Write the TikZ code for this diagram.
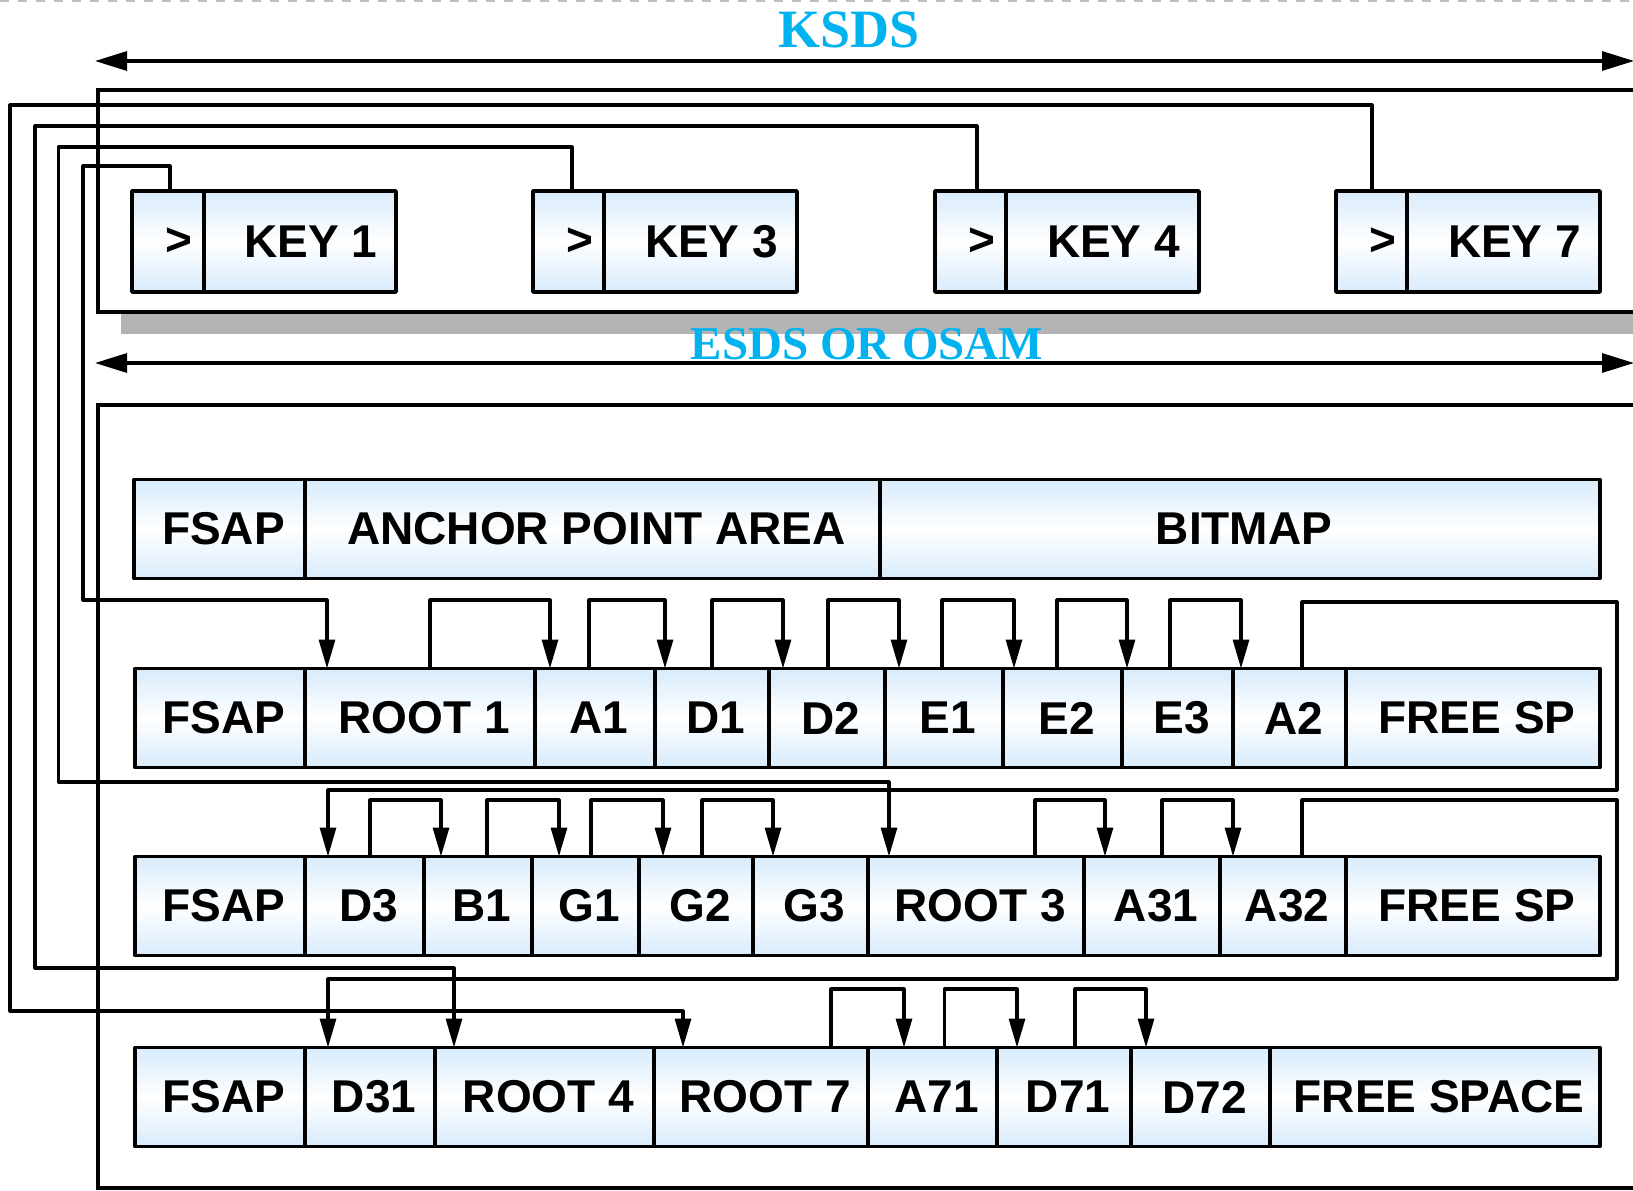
\documentclass[tikz,border=0pt]{standalone}
\usepackage{fontspec}
\setmainfont{Liberation Sans}
\newfontfamily\ttlfont{Liberation Serif}
\usetikzlibrary{arrows.meta}
\definecolor{cellblue}{RGB}{216,235,252}
\definecolor{ttlcyan}{RGB}{0,178,240}
\definecolor{shadowgray}{RGB}{179,179,179}
\newcommand\cel[5]{\pgfmathsetmacro\cellw{#3-#2}\node[cell, minimum width=\cellw pt, anchor=west] (#1) at (#2,#4) {\hspace*{8pt}#5};}
\newcommand\kel[5]{\pgfmathsetmacro\cellw{#3-#2}\node[cell, minimum height=101pt, minimum width=\cellw pt, anchor=west] (#1) at (#2,#4) {\hspace*{22pt}#5};}
\newcommand\hop[5]{\draw[arr] (#3,0 |- #1.north) -- (#3,#5) -- (#4,#5) -- (#4,0 |- #2.north);}
\begin{document}
\begin{tikzpicture}[x=1pt, y=-1pt,
  cell/.style={draw, line width=3.5pt, rectangle, inner sep=0pt, outer sep=0pt,
    minimum height=99pt, top color=cellblue, bottom color=cellblue, middle color=white,
    font=\fontsize{46}{50}\selectfont\bfseries, line join=round},
  link/.style={line width=3.2pt, line join=round},
  arr/.style={link, -{Triangle[length=29pt, width=16pt]}},
  frame/.style={line width=4pt},
  ttl/.style={font=\ttlfont\bfseries\fontsize{54}{58}\selectfont, text=ttlcyan, inner sep=0pt}
]
\useasboundingbox (0,0) rectangle (1633,1191);
\fill[white] (0,0) rectangle (1633,1191);
\draw[black!25, line width=2pt, dash pattern=on 9pt off 9pt] (0,1) -- (1633,1);

% frames
\fill[shadowgray] (121,112) rectangle (1640,334);
\draw[frame, fill=white] (1640,90) -- (98,90) -- (98,312) -- (1640,312);
\draw[frame, fill=white] (1640,405) -- (98,405) -- (98,1188) -- (1640,1188);

% span arrows
\coordinate (ksl) at (95,61);
\coordinate (ksr) at (1634,61);
\coordinate (esl) at (95,363);
\coordinate (esr) at (1634,363);
\draw[link, {Triangle[length=32pt,width=19pt]}-{Triangle[length=32pt,width=19pt]}] (ksl) -- (ksr);
\draw[link, {Triangle[length=32pt,width=19pt]}-{Triangle[length=32pt,width=19pt]}] (esl) -- (esr);
\node[ttl] (ksds) at (849,30) {KSDS};
\node[ttl, font=\ttlfont\bfseries\fontsize{47}{50}\selectfont] (esds) at (867,344) {ESDS OR OSAM};

% key entries
\kel{k1p}{132}{204}{241.5}{>}
\kel{k1}{204}{396}{241.5}{KEY 1}
\kel{k3p}{533}{604}{241.5}{>}
\kel{k3}{604}{797}{241.5}{KEY 3}
\kel{k4p}{935}{1006}{241.5}{>}
\kel{k4}{1006}{1199}{241.5}{KEY 4}
\kel{k7p}{1336}{1407}{241.5}{>}
\kel{k7}{1407}{1600}{241.5}{KEY 7}

% row 1
\cel{fa}{134}{305}{529}{FSAP}
\cel{apa}{305}{880}{529}{ANCHOR POINT AREA}
\cel{bmp}{880}{1600}{529}{BITMAP}
% row 2
\cel{fb}{135}{305}{718}{FSAP}
\cel{root1}{305}{535}{718}{ROOT 1}
\cel{a1}{535}{655}{718}{A1}
\cel{d1}{655}{769}{718}{D1}
\cel{d2}{769}{885}{718}{D2}
\cel{e1}{885}{1003}{718}{E1}
\cel{e2}{1003}{1122}{718}{E2}
\cel{e3}{1122}{1233}{718}{E3}
\cel{a2}{1233}{1346}{718}{A2}
\cel{fsb}{1346}{1600}{718}{FREE SP}
% row 3
\cel{fc}{135}{305}{906}{FSAP}
\cel{d3}{305}{424}{906}{D3}
\cel{b1}{424}{532}{906}{B1}
\cel{g1}{532}{639}{906}{G1}
\cel{g2}{639}{753}{906}{G2}
\cel{g3}{753}{868}{906}{G3}
\cel{root3}{868}{1084}{906}{ROOT 3}
\cel{a31}{1084}{1220}{906}{A31}
\cel{a32}{1220}{1346}{906}{A32}
\cel{fsc}{1346}{1600}{906}{FREE SP}
% row 4
\cel{fd}{135}{305}{1097}{FSAP}
\cel{d31}{305}{435}{1097}{D31}
\cel{root4}{435}{654}{1097}{ROOT 4}
\cel{root7}{654}{868}{1097}{ROOT 7}
\cel{a71}{868}{997}{1097}{A71}
\cel{d71}{997}{1131}{1097}{D71}
\cel{d72}{1131}{1270}{1097}{D72}
\cel{fsd}{1270}{1600}{1097}{FREE SPACE}

% key pointers
\draw[arr] (170,0 |- k1p.north) -- (170,166) -- (83,166) -- (83,600) -- (327,600) -- (327,0 |- root1.north);
\draw[arr] (572,0 |- k3p.north) -- (572,147) -- (58.5,147) -- (58.5,782) -- (889,782) -- (889,0 |- root3.north);
\draw[arr] (977,0 |- k4p.north) -- (977,126) -- (35,126) -- (35,968) -- (454,968) -- (454,0 |- root4.north);
\draw[arr] (1372,0 |- k7p.north) -- (1372,105) -- (10,105) -- (10,1011) -- (683,1011) -- (683,0 |- root7.north);

% row 2 chain
\hop{root1}{a1}{430}{550}{600}
\hop{a1}{d1}{589}{665}{600}
\hop{d1}{d2}{712}{783}{600}
\hop{d2}{e1}{828}{899}{600}
\hop{e1}{e2}{942}{1014}{600}
\hop{e2}{e3}{1057}{1127}{600}
\hop{e3}{a2}{1170}{1241}{600}
\draw[arr] (1302,0 |- a2.north) -- (1302,602) -- (1617,602) -- (1617,790) -- (328,790) -- (328,0 |- d3.north);
% row 3 chain
\hop{d3}{b1}{370}{441}{800}
\hop{b1}{g1}{487}{559}{800}
\hop{g1}{g2}{591}{663}{800}
\hop{g2}{g3}{702}{773}{800}
\hop{root3}{a31}{1035}{1105}{800}
\hop{a31}{a32}{1162}{1233}{800}
\draw[arr] (1302,0 |- a32.north) -- (1302,800) -- (1617,800) -- (1617,979) -- (328,979) -- (328,0 |- d31.north);
% row 4 chain
\hop{root7}{a71}{831}{904}{989}
\hop{a71}{d71}{944.5}{1017}{989}
\hop{d71}{d72}{1075}{1146}{989}
\end{tikzpicture}
\end{document}
